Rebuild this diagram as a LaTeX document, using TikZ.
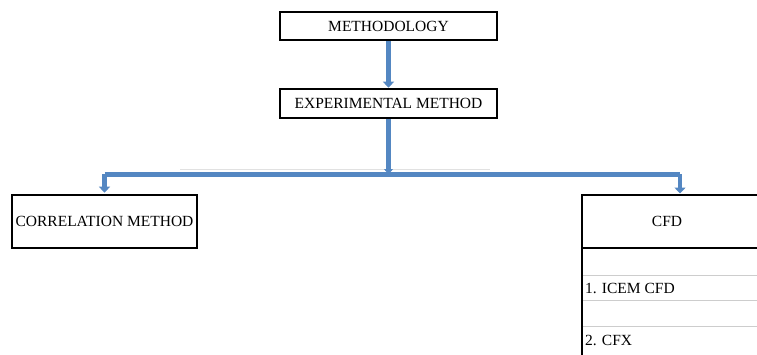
\documentclass[tikz,border=0pt]{standalone}
\usepackage{fontspec}
\setmainfont{Liberation Serif}
\usetikzlibrary{arrows.meta}
\definecolor{arrowblue}{RGB}{84,135,194}
\definecolor{rulegray}{RGB}{205,205,205}
\begin{document}
\begin{tikzpicture}[x=1pt,y=-1pt,
  box/.style={draw=black,line width=2.6pt,inner sep=0pt,font=\fontsize{15.5}{17}\selectfont},
  conn/.style={draw=arrowblue,line width=4.5pt,-{Triangle[width=11pt,length=6pt]}},
  bar/.style={draw=arrowblue,line width=5pt},
  txt/.style={font=\fontsize{15.5}{17}\selectfont,inner sep=0pt}]
\useasboundingbox (0,0) rectangle (757,354);
% faint guide line
\draw[rulegray!60,line width=0.8pt] (180,169) -- (490,169);
% nodes
\node[box,minimum width=217pt,minimum height=28pt] (meth) at (388.5,26) {METHODOLOGY};
\node[box,minimum width=217pt,minimum height=29pt] (exp) at (388.5,103.5) {EXPERIMENTAL METHOD};
\node[box,minimum width=185pt,minimum height=53pt] (corr) at (104.5,221.5) {CORRELATION METHOD};
\node[txt,minimum width=170pt,minimum height=53pt] (cfd) at (667,221.5) {CFD};
% CFD table frame
\draw[line width=2.6pt] (762,195) -- (582,195) -- (582,354.5);
\draw[line width=2.6pt] (582,248) -- (762,248);
\draw[rulegray,line width=1pt] (583,275) -- (757,275);
\draw[rulegray,line width=1pt] (583,300) -- (757,300);
\draw[rulegray,line width=1pt] (583,326) -- (757,326);
\node[txt,anchor=west] (icem) at (585,288) {1. ICEM CFD};
\node[txt,anchor=west] (cfx) at (585,340) {2. CFX};
% connectors
\coordinate (j) at (388.5,174);
\coordinate (jl) at (104.5,174);
\coordinate (jr) at (680,174);
\coordinate (cfdtop) at (680,193.5);
\draw[conn] (meth.south) -- (exp.north);
\draw[bar] (jl) -- (jr);
\draw[conn,-{Triangle[width=9pt,length=5pt]}] (exp.south) -- (j);
\draw[conn,shorten >=1pt] (jl) -- (corr.north);
\draw[conn] (jr) -- (cfdtop);
\end{tikzpicture}
\end{document}
